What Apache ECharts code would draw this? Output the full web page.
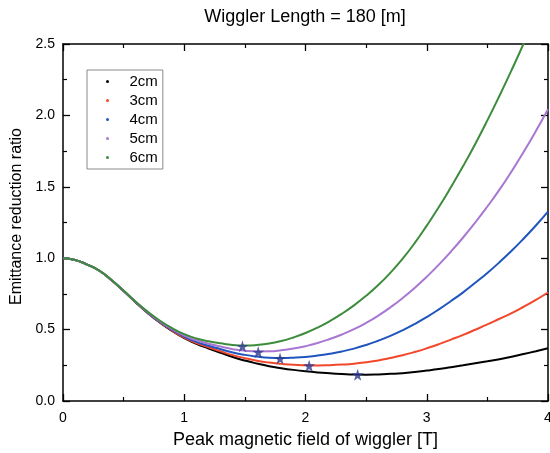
<!DOCTYPE html>
<html>
<head>
<meta charset="utf-8">
<script src="https://cdn.jsdelivr.net/npm/echarts@6/dist/echarts.min.js"></script>
<style>
  html, body { margin: 0; padding: 0; background: #fff; }
  #chart { width: 550px; height: 453px; }
</style>
</head>
<body>
<div id="chart"></div>
<script>
// Peak field of the wiggler [T]
var fieldT = [0.0, 0.1, 0.2, 0.3, 0.4, 0.5, 0.6, 0.7, 0.8, 0.9,
              1.0, 1.1, 1.2, 1.3, 1.4, 1.5, 1.6, 1.7, 1.8, 1.9,
              2.0, 2.1, 2.2, 2.3, 2.4, 2.5, 2.6, 2.7, 2.8, 2.9,
              3.0, 3.1, 3.2, 3.3, 3.4, 3.5, 3.6, 3.7, 3.8, 3.9, 4.0];

// Emittance reduction ratio for each wiggler period
var ratio2cm = [1.000, 0.988, 0.955, 0.912, 0.846, 0.770, 0.690, 0.615, 0.548, 0.490,
                0.440, 0.400, 0.368, 0.338, 0.308, 0.283, 0.262, 0.244, 0.230, 0.218,
                0.208, 0.200, 0.194, 0.189, 0.185, 0.184, 0.186, 0.190, 0.195, 0.203,
                0.213, 0.224, 0.237, 0.250, 0.264, 0.278, 0.293, 0.310, 0.329, 0.349, 0.370];
var ratio3cm = [1.000, 0.988, 0.955, 0.912, 0.846, 0.770, 0.691, 0.616, 0.550, 0.493,
                0.444, 0.406, 0.376, 0.348, 0.321, 0.300, 0.282, 0.269, 0.260, 0.253,
                0.250, 0.249, 0.251, 0.255, 0.261, 0.271, 0.284, 0.301, 0.320, 0.343,
                0.369, 0.398, 0.430, 0.463, 0.499, 0.536, 0.576, 0.615, 0.660, 0.708, 0.760];
var ratio4cm = [1.000, 0.988, 0.955, 0.912, 0.847, 0.771, 0.692, 0.618, 0.553, 0.498,
                0.451, 0.414, 0.387, 0.363, 0.340, 0.323, 0.311, 0.303, 0.301, 0.303,
                0.308, 0.318, 0.331, 0.347, 0.367, 0.392, 0.422, 0.456, 0.495, 0.539,
                0.588, 0.642, 0.700, 0.761, 0.828, 0.897, 0.972, 1.052, 1.138, 1.229, 1.326];
var ratio5cm = [1.000, 0.988, 0.955, 0.912, 0.847, 0.772, 0.694, 0.621, 0.557, 0.503,
                0.458, 0.425, 0.401, 0.381, 0.363, 0.352, 0.347, 0.348, 0.355, 0.367,
                0.384, 0.406, 0.434, 0.466, 0.503, 0.547, 0.598, 0.656, 0.720, 0.791,
                0.870, 0.955, 1.047, 1.145, 1.250, 1.362, 1.480, 1.608, 1.745, 1.890, 2.043];
var ratio6cm = [1.000, 0.988, 0.955, 0.913, 0.847, 0.773, 0.695, 0.624, 0.562, 0.510,
                0.468, 0.438, 0.419, 0.404, 0.392, 0.388, 0.392, 0.402, 0.420, 0.445,
                0.476, 0.514, 0.559, 0.611, 0.670, 0.737, 0.812, 0.898, 0.995, 1.105,
                1.228, 1.358, 1.498, 1.645, 1.800, 1.965, 2.138, 2.318, 2.505, 2.705, 2.915];

// Minimum of each curve (field, ratio)
var minimaField = [2.43, 2.03, 1.79, 1.61, 1.48];
var minimaRatio = [0.184, 0.247, 0.298, 0.343, 0.383];

var periodNames = ['2cm', '3cm', '4cm', '5cm', '6cm'];
var periodColors = ['#000000', '#f2472b', '#1f55bd', '#a877d2', '#3c8c3c'];
var periodRatios = [ratio2cm, ratio3cm, ratio4cm, ratio5cm, ratio6cm];

var xTicks = ['0', '1', '2', '3', '4'];

var FONT = '"Liberation Sans", Arial, Helvetica, sans-serif';
var STAR = 'path://M50,0 L61,35 L98,35 L68,57 L79,91 L50,70 L21,91 L32,57 L2,35 L39,35 Z';

function pairs(xs, ys) {
  return xs.map(function (x, i) { return [x, ys[i]]; });
}

function frameAxis(extra) {
  var base = {
    type: 'value',
    axisLine: { show: true, onZero: false, lineStyle: { color: '#000', width: 1.5 } },
    axisTick: { show: true, inside: true, length: 7, lineStyle: { color: '#000', width: 1.3 } },
    minorTick: { show: true, splitNumber: 2, length: 4, lineStyle: { color: '#000', width: 1.2 } },
    splitLine: { show: false },
    minorSplitLine: { show: false }
  };
  for (var k in extra) base[k] = extra[k];
  return base;
}

var lineSeries = periodNames.map(function (name, i) {
  return {
    name: name,
    type: 'line',
    data: pairs(fieldT, periodRatios[i]),
    smooth: true,
    showSymbol: false,
    symbol: 'circle',
    symbolSize: 3,
    clip: true,
    lineStyle: { color: periodColors[i], width: 2 },
    itemStyle: { color: periodColors[i] },
    z: 2 + i
  };
});

lineSeries.push({
  name: 'minimum',
  type: 'scatter',
  data: pairs(minimaField, minimaRatio),
  symbol: STAR,
  symbolSize: 12,
  itemStyle: { color: '#2d3a8f' },
  z: 10
});

var chart = echarts.init(document.getElementById('chart'), null, { renderer: 'canvas' });

chart.setOption({
  animation: false,
  backgroundColor: '#ffffff',
  textStyle: { fontFamily: FONT },
  grid: { left: 63, right: 2, top: 44, bottom: 52, containLabel: false, outerBoundsMode: 'none' },
  graphic: [{
    type: 'text',
    x: 305, y: 17,
    style: {
      text: 'Wiggler Length = 180 [m]',
      fill: '#000', font: '18px ' + FONT,
      textAlign: 'center', textVerticalAlign: 'middle'
    }
  }],
  legend: {
    data: periodNames,
    orient: 'vertical',
    left: 87, top: 70,
    padding: [4, 5, 4, 19],
    itemWidth: 34, itemHeight: 3, itemGap: 4,
    icon: 'circle',
    borderColor: '#888', borderWidth: 1,
    backgroundColor: '#fff',
    textStyle: { color: '#000', fontSize: 15, fontFamily: FONT, lineHeight: 15 },
    selectedMode: false
  },
  xAxis: [
    frameAxis({
      position: 'bottom', min: 0, max: 4, interval: 1,
      axisLabel: {
        color: '#000', fontSize: 14, fontFamily: FONT, margin: 10,
        formatter: function (v) { return xTicks[Math.round(v)]; }
      },
      name: 'Peak magnetic field of wiggler [T]',
      nameLocation: 'middle', nameGap: 30,
      nameTextStyle: { color: '#000', fontSize: 18, fontFamily: FONT }
    }),
    frameAxis({ position: 'top', min: 0, max: 4, interval: 1, axisLabel: { show: false } })
  ],
  yAxis: [
    frameAxis({
      position: 'left', min: 0, max: 2.5, interval: 0.5,
      axisLabel: {
        color: '#000', fontSize: 14, fontFamily: FONT, margin: 8,
        formatter: function (v) { return v.toFixed(1); }
      },
      name: 'Emittance reduction ratio',
      nameLocation: 'middle', nameGap: 37,
      nameTextStyle: { color: '#000', fontSize: 16, fontFamily: FONT, padding: [0, 0, 0, 12] }
    }),
    frameAxis({ position: 'right', min: 0, max: 2.5, interval: 0.5, axisLabel: { show: false } })
  ],
  series: lineSeries
});
</script>
</body>
</html>
